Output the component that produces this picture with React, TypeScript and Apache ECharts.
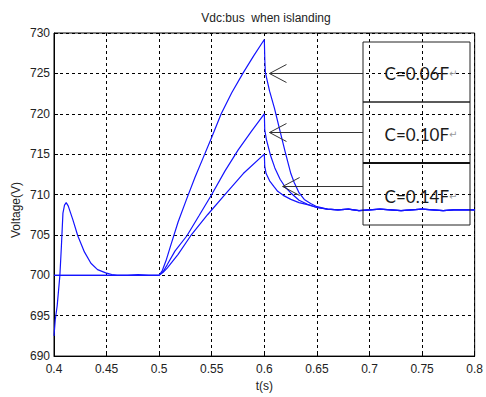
import React, { useEffect, useRef } from "react";
import * as echarts from "echarts";

// Time (s) and voltage (V) readings for each capacitance
const t006 = [0.4, 0.4012, 0.403, 0.4056, 0.407, 0.4085, 0.41, 0.4116, 0.4135, 0.4179, 0.4226, 0.4289, 0.4351, 0.4414, 0.4492, 0.455, 0.46, 0.47, 0.48, 0.49, 0.5, 0.503, 0.507, 0.511, 0.518, 0.526, 0.534, 0.542, 0.55, 0.559, 0.569, 0.58, 0.59, 0.6, 0.6005, 0.601, 0.605, 0.6096, 0.6143, 0.62, 0.6252, 0.6284, 0.6331, 0.638, 0.644, 0.65, 0.66];
const v006 = [692.5, 694.5, 696.2, 700.0, 703.5, 707.7, 708.7, 709.0, 708.6, 706.9, 704.9, 702.9, 701.5, 700.7, 700.3, 700.1, 700.0, 700.0, 700.1, 700.0, 700.0, 700.6, 702.0, 703.7, 706.6, 709.4, 712.1, 714.6, 717.1, 720.0, 722.6, 725.1, 727.2, 729.2, 726.5, 725.1, 722.8, 720.7, 718.2, 715.2, 712.6, 711.5, 710.2, 709.4, 708.9, 708.5, 708.2];

const t010 = [0.4, 0.5, 0.504, 0.5076, 0.515, 0.5264, 0.538, 0.55, 0.5625, 0.575, 0.5875, 0.6, 0.6004, 0.602, 0.606, 0.61, 0.615, 0.62, 0.6252, 0.633, 0.641, 0.65, 0.66];
const v010 = [700, 700, 700.5, 701.3, 703.0, 704.9, 707.4, 710.0, 712.9, 715.5, 717.8, 720.0, 718.0, 716.8, 714.8, 713.3, 711.9, 710.9, 710.2, 709.3, 708.8, 708.4, 708.2];

const t014 = [0.4, 0.5, 0.504, 0.5076, 0.518, 0.53, 0.546, 0.5625, 0.58, 0.6, 0.6004, 0.6017, 0.605, 0.609, 0.6127, 0.618, 0.6252, 0.633, 0.641, 0.65, 0.66];
const v014 = [700, 700, 700.4, 700.9, 702.6, 704.9, 707.5, 710.0, 712.6, 715.0, 713.5, 712.6, 711.7, 711.0, 710.4, 709.9, 709.4, 709.0, 708.75, 708.4, 708.2];

const tSteady = [0.67, 0.68, 0.69, 0.7, 0.71, 0.72, 0.73, 0.74, 0.75, 0.76, 0.77, 0.78, 0.79, 0.8];
const vSteady = [708.1, 708.2, 708.0, 708.1, 708.2, 708.1, 708.0, 708.1, 708.2, 708.1, 708.0, 708.1, 708.1, 708.1];

const labels = ["C=0.06F", "C=0.10F", "C=0.14F"];
// arrow tips in data coordinates (t, V)
const arrowTips: number[][] = [
  [0.6049, 725.1],
  [0.6049, 717.8],
  [0.6174, 711.0],
];

const zip = (t: number[], v: number[]) => t.map((x, i) => [x, v[i]]);

export default function App() {
  const ref = useRef<HTMLDivElement>(null);
  useEffect(() => {
    if (!ref.current) return;
    const chart = echarts.init(ref.current, null, { renderer: "svg" });
    const font = "Liberation Sans";
    const mkSeries = (name: string, t: number[], v: number[]) => ({
      name,
      type: "line",
      data: zip(t.concat(tSteady), v.concat(vSteady)),
      showSymbol: false,
      symbol: "none",
      lineStyle: { color: "#1414ff", width: 1.2 },
      itemStyle: { color: "#1414ff" },
      z: 3,
    });
    chart.setOption({
      animation: false,
      backgroundColor: "#ffffff",
      grid: {
        left: 54,
        right: 7,
        top: 33,
        bottom: 34,
        show: true,
        borderColor: "#000",
        borderWidth: 1,
        backgroundColor: "transparent",
      },
      xAxis: {
        type: "value",
        min: 0.4,
        max: 0.8,
        interval: 0.05,
        name: "t(s)",
        nameLocation: "middle",
        nameGap: 22,
        nameTextStyle: { fontFamily: font, fontSize: 12, color: "#222" },
        axisLine: { show: true, lineStyle: { color: "#000" } },
        axisTick: { show: true, inside: true, length: 4, lineStyle: { color: "#000" } },
        axisLabel: {
          fontFamily: font,
          fontSize: 12,
          color: "#222",
          margin: 7,
          formatter: (v: number) => String(+v.toFixed(2)),
        },
        splitLine: { show: true, lineStyle: { color: "#000", type: [3, 3], width: 1 } },
      },
      yAxis: {
        type: "value",
        min: 690,
        max: 730,
        interval: 5,
        axisLine: { show: true, lineStyle: { color: "#000" } },
        axisTick: { show: true, inside: true, length: 4, lineStyle: { color: "#000" } },
        axisLabel: { fontFamily: font, fontSize: 12, color: "#222", margin: 4 },
        splitLine: { show: true, lineStyle: { color: "#000", type: [3, 3], width: 1 } },
      },
      series: [
        mkSeries(labels[0], t006, v006),
        mkSeries(labels[1], t010, v010),
        mkSeries(labels[2], t014, v014),
      ],
    });

    const boxLeft = 363;
    const boxRight = 470;
    const boxTops = [42, 102, 163];
    const boxBottoms = [102, 163, 225];
    const textYs = [73, 134, 196];
    const graphics: any[] = [];
    graphics.push({
      type: "text",
      x: 266,
      y: 18,
      style: {
        text: "Vdc:bus  when islanding",
        font: `12px "${font}"`,
        fill: "#222",
        align: "center",
        verticalAlign: "middle",
      },
    });
    graphics.push({
      type: "text",
      x: 16,
      y: 210,
      rotation: Math.PI / 2,
      style: {
        text: "Voltage(V)",
        font: `12px "${font}"`,
        fill: "#222",
        align: "center",
        verticalAlign: "middle",
      },
    });
    for (let i = 0; i < 3; i++) {
      graphics.push({
        type: "rect",
        shape: { x: boxLeft, y: boxTops[i], width: boxRight - boxLeft, height: boxBottoms[i] - boxTops[i] },
        style: { fill: "none", stroke: "#222", lineWidth: 1 },
        z: 10,
      });
      graphics.push({
        type: "text",
        x: 421,
        y: textYs[i],
        style: {
          text: `{a|${labels[i]}}{b|↵}`,
          align: "center",
          verticalAlign: "middle",
          rich: {
            a: { fontFamily: "Lato", fontSize: 17, fill: "#1a1a1a", color: "#1a1a1a" },
            b: { fontFamily: "DejaVu Sans", fontSize: 10, fill: "#999", color: "#999" },
          },
        },
        z: 10,
      });
      const p = chart.convertToPixel({ gridIndex: 0 }, arrowTips[i]) as number[];
      const y = Math.round(p[1]) + 0.5;
      graphics.push({
        type: "line",
        shape: { x1: p[0], y1: y, x2: boxLeft, y2: y },
        style: { stroke: "#333", lineWidth: 1 },
        z: 10,
      });
      graphics.push({
        type: "polyline",
        shape: { points: [[p[0] + 17, y - 9], [p[0], y], [p[0] + 17, y + 9]] },
        style: { stroke: "#333", lineWidth: 1, fill: "none" },
        z: 10,
      });
    }
    // thicker separator between second and third boxes
    graphics.push({
      type: "line",
      shape: { x1: boxLeft, y1: 163, x2: boxRight, y2: 163 },
      style: { stroke: "#111", lineWidth: 2 },
      z: 11,
    });
    chart.setOption({ graphic: graphics });
    return () => chart.dispose();
  }, []);
  return (
    <div
      ref={ref}
      style={{ position: "absolute", left: 0, top: 0, width: 486, height: 397, background: "#fff" }}
    />
  );
}
